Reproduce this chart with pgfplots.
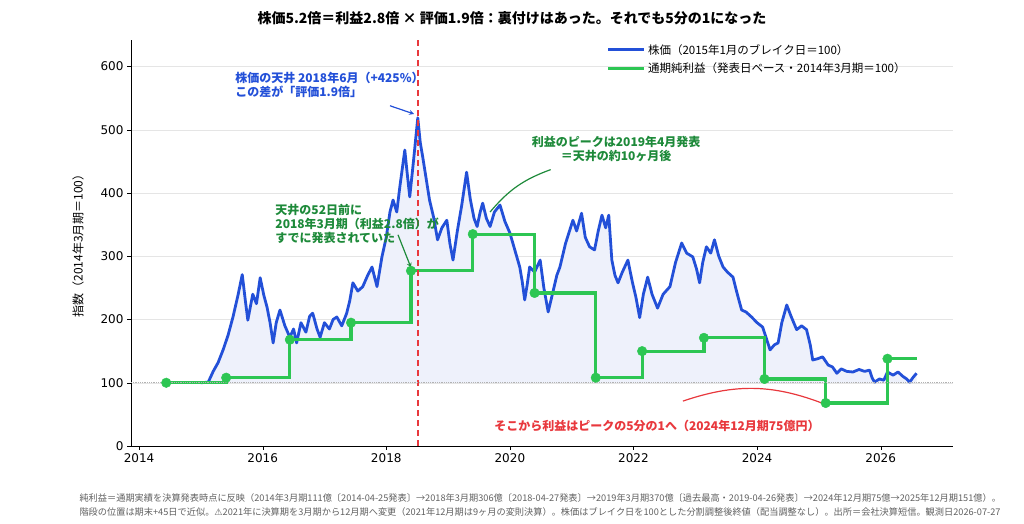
\documentclass[border=0pt]{standalone}
\usepackage{pgfplots}
\pgfplotsset{compat=1.18}
\usepgfplotslibrary{fillbetween}
\usepackage{fontspec}
\setmainfont{Noto Sans CJK JP}
\newfontfamily\tickfont{DejaVu Sans}
\definecolor{cblue}{HTML}{2350D8}
\definecolor{cgreen}{HTML}{2DC653}
\definecolor{cdgreen}{HTML}{1E8A3A}
\definecolor{cred}{HTML}{E8383D}
\definecolor{cfillb}{HTML}{EEF1FB}
\begin{document}
\begin{tikzpicture}
\path (0pt,0pt) rectangle (1024pt,524pt);
\node[font=\fontsize{14}{16}\selectfont\bfseries] at (512pt,506pt) {株価5.2倍＝利益2.8倍 × 評価1.9倍：裏付けはあった。それでも5分の1になった};
\begin{axis}[set layers, at={(131pt,78pt)},anchor=south west,scale only axis,width=822pt,height=406pt,
  xmin=2013.87,xmax=2027.17,ymin=0,ymax=642,
  axis x line*=bottom, axis y line*=left,
  axis line style={black},
  xtick={2014,2016,...,2026}, ytick={0,100,...,600},
  tick align=outside, tick style={black},major tick length=4pt,
  ymajorgrids, grid style={gray!20},
  ticklabel style={font=\tickfont\fontsize{12}{14}\selectfont},
  /pgf/number format/assume math mode=true,
  xticklabel style={/pgf/number format/1000 sep={}},
  ylabel={指数（2014年3月期＝100）}, ylabel style={font=\fontsize{12}{14}\selectfont, yshift=10pt},
  legend style={at={(0.575,1.0)},anchor=north west,draw=none,fill=none,font=\fontsize{11.5}{13}\selectfont,row sep=3pt},
  legend image code/.code={\draw[#1] (0pt,0pt) -- (36pt,0pt);},
  legend cell align=left,
  clip=false]
\addplot[name path=price,color=cblue,line width=2.8pt,line join=round] coordinates {
(2015.00,100)(2015.12,101)(2015.20,118)(2015.28,132)(2015.36,152)(2015.44,175)(2015.52,204)(2015.60,238)(2015.67,271)(2015.72,230)(2015.76,199)(2015.84,240)(2015.90,225)(2015.96,266)(2016.02,238)(2016.07,220)(2016.12,195)(2016.17,163)(2016.22,195)(2016.28,215)(2016.36,190)(2016.44,172)(2016.50,185)(2016.55,163)(2016.62,195)(2016.70,180)(2016.76,205)(2016.81,210)(2016.88,185)(2016.93,172)(2017.00,195)(2017.08,185)(2017.14,200)(2017.20,204)(2017.28,190)(2017.36,210)(2017.41,230)(2017.46,258)(2017.54,245)(2017.62,252)(2017.70,270)(2017.77,283)(2017.85,252)(2017.93,299)(2018.00,330)(2018.06,370)(2018.11,389)(2018.17,370)(2018.22,410)(2018.30,468)(2018.34,430)(2018.38,394)(2018.44,450)(2018.51,519)(2018.55,480)(2018.59,457)(2018.65,420)(2018.70,389)(2018.77,360)(2018.83,326)(2018.90,345)(2018.98,357)(2019.03,320)(2019.08,294)(2019.15,340)(2019.22,380)(2019.30,433)(2019.36,390)(2019.42,360)(2019.47,347)(2019.52,370)(2019.56,384)(2019.62,360)(2019.68,347)(2019.75,370)(2019.84,381)(2019.92,355)(2020.00,337)(2020.08,310)(2020.16,283)(2020.20,260)(2020.24,231)(2020.28,255)(2020.32,283)(2020.40,275)(2020.49,294)(2020.55,250)(2020.62,212)(2020.70,245)(2020.76,270)(2020.81,283)(2020.90,320)(2021.02,357)(2021.08,340)(2021.16,368)(2021.22,330)(2021.29,315)(2021.37,310)(2021.43,340)(2021.49,365)(2021.55,345)(2021.60,365)(2021.65,294)(2021.70,270)(2021.75,258)(2021.82,275)(2021.91,294)(2021.98,260)(2022.04,235)(2022.10,203)(2022.16,240)(2022.23,267)(2022.30,240)(2022.39,218)(2022.48,240)(2022.59,252)(2022.68,290)(2022.78,321)(2022.86,305)(2022.96,299)(2023.02,280)(2023.07,258)(2023.12,290)(2023.18,315)(2023.25,305)(2023.31,326)(2023.38,300)(2023.45,283)(2023.52,275)(2023.61,267)(2023.68,240)(2023.75,215)(2023.82,212)(2023.91,204)(2024.00,195)(2024.09,188)(2024.15,170)(2024.21,152)(2024.28,160)(2024.34,163)(2024.40,195)(2024.48,223)(2024.55,205)(2024.64,184)(2024.72,190)(2024.80,184)(2024.86,160)(2024.90,136)(2024.98,138)(2025.06,141)(2025.15,128)(2025.22,125)(2025.29,115)(2025.36,122)(2025.45,118)(2025.55,117)(2025.65,121)(2025.74,118)(2025.82,120)(2025.86,108)(2025.90,101)(2025.98,106)(2026.05,104)(2026.11,117)(2026.20,112)(2026.28,117)(2026.36,110)(2026.42,106)(2026.47,101)(2026.52,108)(2026.58,115)};
\addlegendentry{株価（2015年1月のブレイク日＝100）}
\addplot[color=cgreen,line width=3.2pt,const plot,forget plot] coordinates {
(2014.44,100)(2015.41,108)(2016.44,168)(2017.43,195)(2018.40,277)(2019.40,335)(2020.40,242)(2021.39,108)(2022.14,150)(2023.14,171)(2024.12,106)(2025.11,68)(2026.11,138)(2026.58,138)};
\addplot[color=cgreen,only marks,mark=*,mark size=4.8pt,forget plot] coordinates {
(2014.44,100)(2015.41,108)(2016.44,168)(2017.43,195)(2018.40,277)(2019.40,335)(2020.40,242)(2021.39,108)(2022.14,150)(2023.14,171)(2024.12,106)(2025.11,68)(2026.11,138)};
\addlegendimage{color=cgreen,line width=3.2pt}
\addlegendentry{通期純利益（発表日ベース・2014年3月期＝100）}
\addplot[color=cred,dash pattern=on 6pt off 4pt,line width=1.6pt,forget plot] coordinates {(2018.51,0)(2018.51,642)};
\path[name path=base] (axis cs:2015.0,100) -- (axis cs:2026.58,100);
\addplot[fill=cfillb,draw=none,forget plot,on layer=axis background] fill between[of=price and base];
\draw[gray!60,densely dotted,line width=0.8pt] (axis cs:2013.87,100) -- (axis cs:2027.17,100);
\node[anchor=west,text=cblue,font=\fontsize{12}{14}\selectfont\bfseries,align=left] at (axis cs:2015.50,571) {株価の天井 2018年6月（+425\%）\\この差が「評価1.9倍」};
\draw[->,>=stealth,color=cblue,line width=1.2pt] (axis cs:2018.06,538) -- (axis cs:2018.45,525);
\node[anchor=west,text=cdgreen,font=\fontsize{12}{14}\selectfont\bfseries,align=left] at (axis cs:2016.15,351) {天井の52日前に\\2018年3月期（利益2.8倍）が\\すでに発表されていた};
\draw[->,>=stealth,color=cdgreen,line width=1.2pt] (axis cs:2018.19,334) -- (axis cs:2018.40,282);
\node[text=cdgreen,font=\fontsize{12}{14}\selectfont\bfseries,align=center] at (axis cs:2021.72,469) {利益のピークは2019年4月発表\\＝天井の約10ヶ月後};
\draw[color=cdgreen,line width=1.2pt] (axis cs:2020.66,437) to[bend right=15] (axis cs:2019.68,370);
\node[text=cred,font=\fontsize{12}{14}\selectfont\bfseries] at (axis cs:2022.38,32) {そこから利益はピークの5分の1へ（2024年12月期75億円）};
\draw[color=cred,line width=1.2pt] (axis cs:2022.80,71) to[bend left=20] (axis cs:2025.10,66);
\end{axis}
\node[anchor=north west,text=gray!75!black,font=\fontsize{9.2}{14}\selectfont,align=left] at (76pt,34pt) {純利益＝通期実績を決算発表時点に反映（2014年3月期111億〔2014-04-25発表〕→2018年3月期306億〔2018-04-27発表〕→2019年3月期370億〔過去最高・2019-04-26発表〕→2024年12月期75億→2025年12月期151億）。\\階段の位置は期末+45日で近似。{\tickfont ⚠}2021年に決算期を3月期から12月期へ変更（2021年12月期は9ヶ月の変則決算）。株価はブレイク日を100とした分割調整後終値（配当調整なし）。出所＝会社決算短信。観測日2026-07-27};
\end{tikzpicture}
\end{document}
